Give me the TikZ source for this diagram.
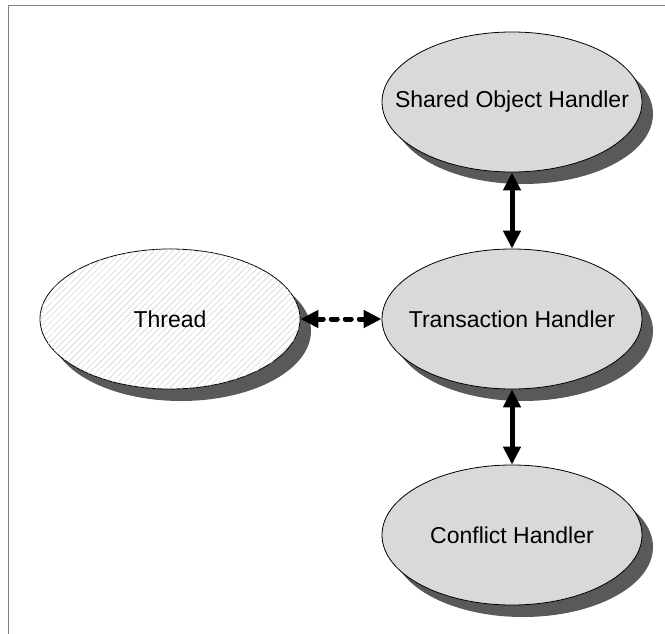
\documentclass[tikz,border=0pt]{standalone}
\usepackage{fontspec}
\setmainfont{Liberation Sans}
\usetikzlibrary{shapes.geometric,shadows,arrows.meta,patterns.meta}
\definecolor{nodegray}{HTML}{D9D9D9}
\definecolor{shadegray}{HTML}{595959}
\definecolor{hatchgray}{HTML}{D6D6D6}
\definecolor{framegray}{HTML}{808080}
% label set in a zero-width box so the ellipse keeps its fixed size
\newcommand{\ovaltext}[1]{\makebox[0pt]{#1}}
\tikzset{
  handler/.style={ellipse, draw=black, line width=0.8pt, fill=nodegray,
    minimum width=260pt, minimum height=140pt, inner sep=0pt,
    font=\fontsize{23}{26}\selectfont,
    drop shadow={shadow xshift=11pt, shadow yshift=-12pt, fill=shadegray, opacity=1}},
  hatched/.style={handler, fill=white,
    postaction={pattern={Lines[angle=45,distance=4.5pt,line width=0.6pt]}, pattern color=hatchgray}},
  link/.style={line width=5pt, {Triangle[length=18pt,width=17pt]}-{Triangle[length=18pt,width=17pt]}},
  dashlink/.style={link, line cap=round, dash pattern=on 6pt off 8pt}
}
\begin{document}
\begin{tikzpicture}[x=1pt,y=-1pt]
  \useasboundingbox (0,0) rectangle (665,634);
  % open frame: top and left edges
  \draw[framegray, line width=1pt] (665,6) -- (8,6) -- (8,634);

  \node[handler] (shared) at (512,102) {\ovaltext{Shared Object Handler}};
  \node[handler] (trans) at (512,319) {\ovaltext{Transaction Handler}};
  \node[handler] (conflict) at (512,535) {\ovaltext{Conflict Handler}};
  \node[hatched] (thread) at (170,319) {\ovaltext{Thread}};

  \draw[link] (shared) -- (trans);
  \draw[link] (trans) -- (conflict);
  \draw[dashlink] (thread) -- (trans);
\end{tikzpicture}
\end{document}
